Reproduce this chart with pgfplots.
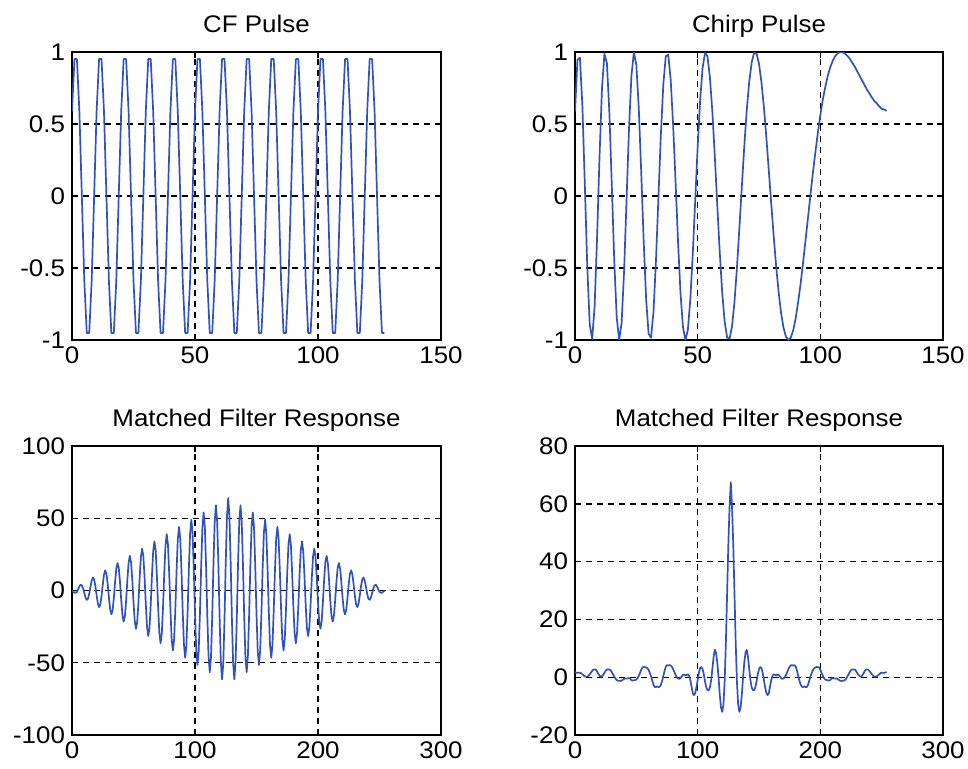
\documentclass[border=0pt]{standalone}
\usepackage{fontspec}
\setmainfont{Liberation Sans}[FakeStretch=1.08]
\usepackage{pgfplots}
\pgfplotsset{compat=1.18}
\definecolor{mlblue}{RGB}{50,82,186}

\pgfplotsset{
  mlaxis/.style={
    scale only axis,
    width=184.5pt, height=144pt,
    anchor=south west,
    axis line style={black, line width=0.8pt},
    tick align=inside,
    major tick length=3pt,
    tick style={black, line width=0.6pt},
    grid=major,
    major grid style={black, line width=0.7pt, dash pattern=on 3.2pt off 2.3pt},
    tick label style={font=\fontsize{12}{14}\selectfont, /pgf/number format/fixed},
    /pgf/number format/assume math mode=true,
    scaled ticks=false,
    every axis title shift=0pt,
    title style={font=\fontsize{12}{14}\selectfont, anchor=base, yshift=10pt},
  },
  mlline/.style={mlblue, line width=0.85pt, no markers, line join=round},
}

\begin{document}
\begin{tikzpicture}

% CF pulse
\begin{axis}[mlaxis, at={(36pt,214pt)},
  title={CF Pulse},
  xmin=0, xmax=150, xtick={0,50,100,150},
  ymin=-1, ymax=1, ytick={-1,-0.5,0,0.5,1}]
\addplot[mlline] coordinates {
(0,0.588)(1,0.951)(2,0.951)(3,0.588)(4,0)(5,-0.588)(6,-0.951)(7,-0.951)(8,-0.588)(9,0)
(10,0.588)(11,0.951)(12,0.951)(13,0.588)(14,0)(15,-0.588)(16,-0.951)(17,-0.951)(18,-0.588)(19,0)
(20,0.588)(21,0.951)(22,0.951)(23,0.588)(24,0)(25,-0.588)(26,-0.951)(27,-0.951)(28,-0.588)(29,0)
(30,0.588)(31,0.951)(32,0.951)(33,0.588)(34,0)(35,-0.588)(36,-0.951)(37,-0.951)(38,-0.588)(39,0)
(40,0.588)(41,0.951)(42,0.951)(43,0.588)(44,0)(45,-0.588)(46,-0.951)(47,-0.951)(48,-0.588)(49,0)
(50,0.588)(51,0.951)(52,0.951)(53,0.588)(54,0)(55,-0.588)(56,-0.951)(57,-0.951)(58,-0.588)(59,0)
(60,0.588)(61,0.951)(62,0.951)(63,0.588)(64,0)(65,-0.588)(66,-0.951)(67,-0.951)(68,-0.588)(69,0)
(70,0.588)(71,0.951)(72,0.951)(73,0.588)(74,0)(75,-0.588)(76,-0.951)(77,-0.951)(78,-0.588)(79,0)
(80,0.588)(81,0.951)(82,0.951)(83,0.588)(84,0)(85,-0.588)(86,-0.951)(87,-0.951)(88,-0.588)(89,0)
(90,0.588)(91,0.951)(92,0.951)(93,0.588)(94,0)(95,-0.588)(96,-0.951)(97,-0.951)(98,-0.588)(99,0)
(100,0.588)(101,0.951)(102,0.951)(103,0.588)(104,0)(105,-0.588)(106,-0.951)(107,-0.951)(108,-0.588)(109,0)
(110,0.588)(111,0.951)(112,0.951)(113,0.588)(114,0)(115,-0.588)(116,-0.951)(117,-0.951)(118,-0.588)(119,0)
(120,0.588)(121,0.951)(122,0.951)(123,0.588)(124,0)(125,-0.588)(126,-0.951)(127,-0.951)
};
\end{axis}

% Chirp pulse
\begin{axis}[mlaxis, at={(287.5pt,214pt)}, width=184pt,
  title={Chirp Pulse},
  xmin=0, xmax=150, xtick={0,50,100,150},
  ymin=-1, ymax=1, ytick={-1,-0.5,0,0.5,1}]
\addplot[mlline] coordinates {
(0,0.588)(1,0.947)(2,0.960)(3,0.631)(4,0.082)(5,-0.491)(6,-0.893)(7,-0.993)(8,-0.764)(9,-0.287)
(10,0.276)(11,0.749)(12,0.987)(13,0.923)(14,0.584)(15,0.075)(16,-0.451)(17,-0.844)(18,-0.999)(19,-0.880)
(20,-0.524)(21,-0.033)(22,0.463)(23,0.836)(24,0.997)(25,0.911)(26,0.607)(27,0.162)(28,-0.317)(29,-0.718)
(30,-0.957)(31,-0.984)(32,-0.801)(33,-0.449)(34,-0.009)(35,0.426)(36,0.776)(37,0.971)(38,0.981)(39,0.809)
(40,0.492)(41,0.094)(42,-0.319)(43,-0.673)(44,-0.910)(45,-1.000)(46,-0.930)(47,-0.719)(48,-0.402)(49,-0.028)
(50,0.342)(51,0.663)(52,0.889)(53,0.994)(54,0.970)(55,0.823)(56,0.581)(57,0.271)(58,-0.068)(59,-0.391)
(60,-0.669)(61,-0.873)(62,-0.982)(63,-0.992)(64,-0.905)(65,-0.736)(66,-0.500)(67,-0.223)(68,0.065)(69,0.347)
(70,0.595)(71,0.791)(72,0.927)(73,0.994)(74,0.989)(75,0.918)(76,0.789)(77,0.616)(78,0.405)(79,0.175)
(80,-0.056)(81,-0.282)(82,-0.491)(83,-0.667)(84,-0.812)(85,-0.916)(86,-0.978)(87,-1.000)(88,-0.982)(89,-0.929)
(90,-0.843)(91,-0.731)(92,-0.603)(93,-0.456)(94,-0.301)(95,-0.146)(96,0.013)(97,0.167)(98,0.307)(99,0.441)
(100,0.562)(101,0.669)(102,0.756)(103,0.832)(104,0.893)(105,0.937)(106,0.970)(107,0.990)(108,0.999)(109,0.999)
(110,0.989)(111,0.974)(112,0.953)(113,0.926)(114,0.899)(115,0.867)(116,0.834)(117,0.804)(118,0.771)(119,0.739)
(120,0.713)(121,0.685)(122,0.660)(123,0.643)(124,0.623)(125,0.606)(126,0.601)(127,0.592)
};
\end{axis}

% CF matched filter response
\begin{axis}[mlaxis, at={(36pt,16.5pt)}, height=144.5pt,
  title={Matched Filter Response},
  xmin=0, xmax=300, xtick={0,100,200,300},
  ymin=-100, ymax=100, ytick={-100,-50,0,50,100}]
\addplot[mlline] coordinates {
(0,-0.2)(1,-0.8)(2,-1.5)(3,-1.6)(4,-0.8)(5,0.9)(6,2.8)(7,4)(8,3.6)(9,1.5)
(10,-1.7)(11,-4.9)(12,-6.5)(13,-5.7)(14,-2.3)(15,2.5)(16,6.9)(17,9)(18,7.7)(19,3.1)
(20,-3.2)(21,-8.9)(22,-11.5)(23,-9.7)(24,-3.9)(25,4)(26,10.9)(27,14)(28,11.7)(29,4.6)
(30,-4.8)(31,-12.9)(32,-16.5)(33,-13.8)(34,-5.4)(35,5.6)(36,15)(37,19)(38,15.8)(39,6.2)
(40,-6.3)(41,-17)(42,-21.5)(43,-17.8)(44,-7)(45,7.1)(46,19)(47,24)(48,19.8)(49,7.7)
(50,-7.9)(51,-21)(52,-26.5)(53,-21.8)(54,-8.5)(55,8.7)(56,23.1)(57,29)(58,23.9)(59,9.3)
(60,-9.4)(61,-25.1)(62,-31.5)(63,-25.9)(64,-10)(65,10.2)(66,27.1)(67,34)(68,27.9)(69,10.8)
(70,-11)(71,-29.1)(72,-36.5)(73,-29.9)(74,-11.6)(75,11.7)(76,31.1)(77,39)(78,32)(79,12.4)
(80,-12.5)(81,-33.2)(82,-41.5)(83,-34)(84,-13.1)(85,13.3)(86,35.2)(87,44)(88,36)(89,13.9)
(90,-14.1)(91,-37.2)(92,-46.5)(93,-38)(94,-14.7)(95,14.8)(96,39.2)(97,49)(98,40)(99,15.5)
(100,-15.6)(101,-41.3)(102,-51.5)(103,-42.1)(104,-16.2)(105,16.4)(106,43.3)(107,54)(108,44.1)(109,17)
(110,-17.2)(111,-45.3)(112,-56.5)(113,-46.1)(114,-17.8)(115,17.9)(116,47.3)(117,59)(118,48.1)(119,18.5)
(120,-18.7)(121,-49.3)(122,-61.5)(123,-50.2)(124,-19.3)(125,19.5)(126,51.4)(127,64)(128,51.4)(129,19.5)
(130,-19.3)(131,-50.2)(132,-61.5)(133,-49.3)(134,-18.7)(135,18.5)(136,48.1)(137,59)(138,47.3)(139,17.9)
(140,-17.8)(141,-46.1)(142,-56.5)(143,-45.3)(144,-17.2)(145,17)(146,44.1)(147,54)(148,43.3)(149,16.4)
(150,-16.2)(151,-42.1)(152,-51.5)(153,-41.3)(154,-15.6)(155,15.5)(156,40)(157,49)(158,39.2)(159,14.8)
(160,-14.7)(161,-38)(162,-46.5)(163,-37.2)(164,-14.1)(165,13.9)(166,36)(167,44)(168,35.2)(169,13.3)
(170,-13.1)(171,-34)(172,-41.5)(173,-33.2)(174,-12.5)(175,12.4)(176,32)(177,39)(178,31.1)(179,11.7)
(180,-11.6)(181,-29.9)(182,-36.5)(183,-29.1)(184,-11)(185,10.8)(186,27.9)(187,34)(188,27.1)(189,10.2)
(190,-10)(191,-25.9)(192,-31.5)(193,-25.1)(194,-9.4)(195,9.3)(196,23.9)(197,29)(198,23.1)(199,8.7)
(200,-8.5)(201,-21.8)(202,-26.5)(203,-21)(204,-7.9)(205,7.7)(206,19.8)(207,24)(208,19)(209,7.1)
(210,-7)(211,-17.8)(212,-21.5)(213,-17)(214,-6.3)(215,6.2)(216,15.8)(217,19)(218,15)(219,5.6)
(220,-5.4)(221,-13.8)(222,-16.5)(223,-12.9)(224,-4.8)(225,4.6)(226,11.7)(227,14)(228,10.9)(229,4)
(230,-3.9)(231,-9.7)(232,-11.5)(233,-8.9)(234,-3.2)(235,3.1)(236,7.7)(237,9)(238,6.9)(239,2.5)
(240,-2.3)(241,-5.7)(242,-6.5)(243,-4.9)(244,-1.7)(245,1.5)(246,3.6)(247,4)(248,2.8)(249,0.9)
(250,-0.8)(251,-1.6)(252,-1.5)(253,-0.8)(254,-0.2)
};
\end{axis}

% Chirp matched filter response
\begin{axis}[mlaxis, at={(287.5pt,16.5pt)}, width=184pt, height=144.5pt,
  title={Matched Filter Response},
  xmin=0, xmax=300, xtick={0,100,200,300},
  ymin=-20, ymax=80, ytick={-20,0,20,40,60,80}]
\addplot[mlline] coordinates {
(0,1.8)(1,1.6)(2,1.5)(3,1.5)(4,1.6)(5,1.4)(6,1)(7,0.6)(8,0.3)(9,0.2)
(10,0.2)(11,0.5)(12,1)(13,1.6)(14,2.2)(15,2.6)(16,2.7)(17,2.6)(18,2)(19,1.2)
(20,0.5)(21,0.2)(22,0.4)(23,0.8)(24,1.5)(25,2.2)(26,2.7)(27,2.7)(28,2.7)(29,2.4)
(30,1.8)(31,1)(32,0.2)(33,-0.5)(34,-1)(35,-1.2)(36,-1.2)(37,-1.3)(38,-1.2)(39,-0.9)
(40,-0.6)(41,-0.4)(42,-0.5)(43,-0.4)(44,-0.3)(45,-0.5)(46,-1)(47,-1.2)(48,-1)(49,-1)
(50,-0.8)(51,-0.3)(52,0.5)(53,1.5)(54,2.6)(55,3.4)(56,3.5)(57,3.5)(58,3.4)(59,3.1)
(60,2.5)(61,1.5)(62,0.3)(63,-1.2)(64,-2.6)(65,-3.4)(66,-3.4)(67,-3.2)(68,-3.4)(69,-3.3)
(70,-2.6)(71,-1.3)(72,0.4)(73,2.2)(74,3.6)(75,4.2)(76,4)(77,4.2)(78,4.1)(79,3.6)
(80,2.8)(81,1.8)(82,0.8)(83,0)(84,-0.4)(85,-0.6)(86,-0.3)(87,0.3)(88,0.8)(89,0.9)
(90,0.6)(91,0.8)(92,1)(93,0.5)(94,-1)(95,-3.2)(96,-5.5)(97,-6.2)(98,-5.5)(99,-3.5)
(100,-1)(101,1.5)(102,3.2)(103,3.5)(104,2.8)(105,1)(106,-1.5)(107,-3.5)(108,-4.5)(109,-4.5)
(110,-3.5)(111,-1)(112,3)(113,7)(114,9.5)(115,8.5)(116,5)(117,0)(118,-6)(119,-10.5)
(120,-12)(121,-9.5)(122,-1.5)(123,12)(124,29)(125,46)(126,59)(127,67.5)(128,59)(129,46)
(130,29)(131,12)(132,-1.5)(133,-9.5)(134,-12)(135,-10.5)(136,-6)(137,0)(138,5)(139,8.5)
(140,9.5)(141,7)(142,3)(143,-1)(144,-3.5)(145,-4.5)(146,-4.5)(147,-3.5)(148,-1.5)(149,1)
(150,2.8)(151,3.5)(152,3.2)(153,1.5)(154,-1)(155,-3.5)(156,-5.5)(157,-6.2)(158,-5.5)(159,-3.2)
(160,-1)(161,0.5)(162,1)(163,0.8)(164,0.6)(165,0.9)(166,0.8)(167,0.3)(168,-0.3)(169,-0.6)
(170,-0.4)(171,0)(172,0.8)(173,1.8)(174,2.8)(175,3.6)(176,4.1)(177,4.2)(178,4)(179,4.2)
(180,3.6)(181,2.2)(182,0.4)(183,-1.3)(184,-2.6)(185,-3.3)(186,-3.4)(187,-3.2)(188,-3.4)(189,-3.4)
(190,-2.6)(191,-1.2)(192,0.3)(193,1.5)(194,2.5)(195,3.1)(196,3.4)(197,3.5)(198,3.5)(199,3.4)
(200,2.6)(201,1.5)(202,0.5)(203,-0.3)(204,-0.8)(205,-1)(206,-1)(207,-1.2)(208,-1)(209,-0.5)
(210,-0.3)(211,-0.4)(212,-0.5)(213,-0.4)(214,-0.6)(215,-0.9)(216,-1.2)(217,-1.3)(218,-1.2)(219,-1.2)
(220,-1)(221,-0.5)(222,0.2)(223,1)(224,1.8)(225,2.4)(226,2.7)(227,2.7)(228,2.7)(229,2.2)
(230,1.5)(231,0.8)(232,0.4)(233,0.2)(234,0.5)(235,1.2)(236,2)(237,2.6)(238,2.7)(239,2.6)
(240,2.2)(241,1.6)(242,1)(243,0.5)(244,0.2)(245,0.2)(246,0.3)(247,0.6)(248,1)(249,1.4)
(250,1.6)(251,1.5)(252,1.5)(253,1.6)(254,1.8)
};
\end{axis}

\pgfresetboundingbox
\useasboundingbox (0,0) rectangle (484pt,384pt);
\end{tikzpicture}
\end{document}
